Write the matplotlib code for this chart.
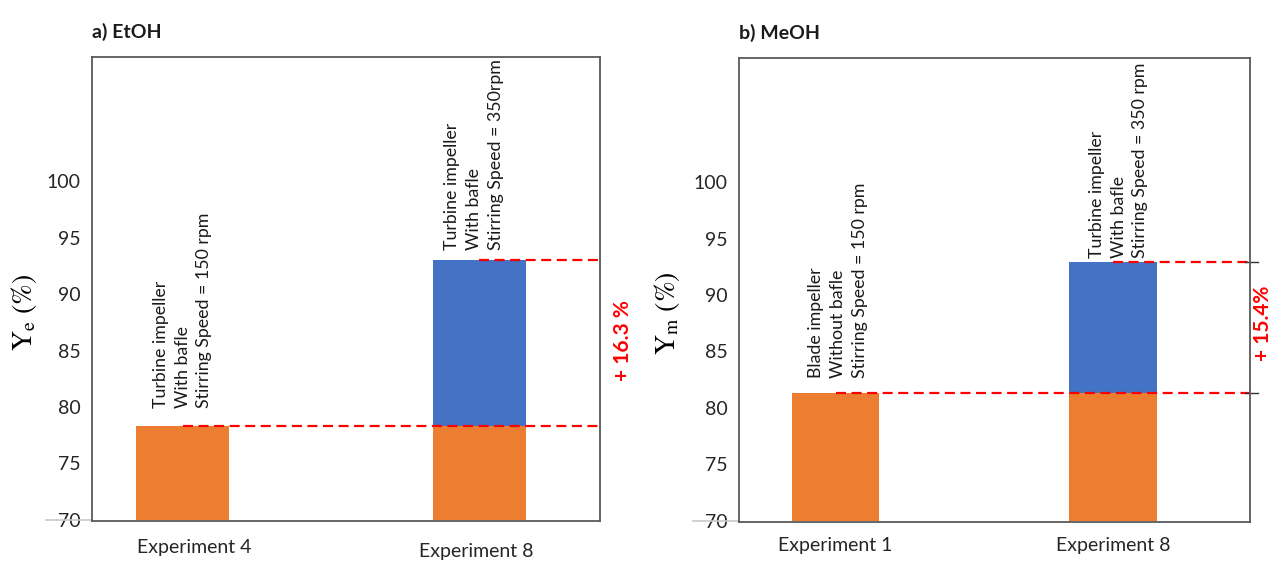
import numpy as np
import matplotlib
matplotlib.use('Agg')
import matplotlib.pyplot as plt
import matplotlib.transforms as mtransforms

plt.rcParams['font.family'] = ['Lato', 'DejaVu Sans']
plt.rcParams['mathtext.fontset'] = 'stix'

# data
etoh_labels = ['Experiment 4', 'Experiment 8']
etoh_base = [78.3, 78.3]
etoh_top = [78.3, 93.0]
etoh_notes = ['Turbine impeller\nWith bafle\nStirring Speed = 150 rpm',
              'Turbine impeller\nWith bafle\nStirring Speed = 350rpm']
etoh_gain = '+ 16.3 %'

meoh_labels = ['Experiment 1', 'Experiment 8']
meoh_base = [81.3, 81.3]
meoh_top = [81.3, 92.9]
meoh_notes = ['Blade impeller\nWithout bafle\nStirring Speed = 150 rpm',
              'Turbine impeller\nWith bafle\nStirring Speed = 350 rpm']
meoh_gain = '+ 15.4%'

yticks = [70, 75, 80, 85, 90, 95, 100]

orange = '#ED7D31'
blue = '#4472C4'
W, H = 1274, 561

fig = plt.figure(figsize=(W / 100, H / 100), dpi=100)


def panel(rect, xlim, ylim, labels, base, top, notes, title, ylab,
          note_off, lab_off, tick_right):
    ax = fig.add_axes(rect)
    x = np.arange(len(labels))
    ax.bar(x, np.array(base) - 70, bottom=70, width=0.315, color=orange)
    ax.bar(x, np.array(top) - np.array(base), bottom=base, width=0.315, color=blue)
    ax.set_xlim(*xlim)
    ax.set_ylim(*ylim)
    ax.set_yticks(yticks)
    ax.tick_params(axis='y', length=0, pad=8, labelsize=14, labelcolor='#262626')
    ax.set_xticks([])
    for s in ax.spines.values():
        s.set_color('#595959')
        s.set_linewidth(1.3)

    # red dashed reference lines, from the bar centre to the right edge
    ax.plot([x[0], xlim[1]], [base[0], base[0]], color='red', lw=1.6,
            dashes=(4.5, 2.5), clip_on=False)
    ax.plot([x[1], xlim[1]], [top[1], top[1]], color='red', lw=1.6,
            dashes=(4.5, 2.5), clip_on=False)

    trans = mtransforms.blended_transform_factory(ax.transAxes, ax.transData)
    ax.plot([-0.09, 0], [70, 70], color='#c8c8c8', lw=1.2, transform=trans, clip_on=False)
    if tick_right:
        for yv in (base[1], top[1]):
            ax.plot([0.99, 1.016], [yv, yv], color='#333333', lw=1.0,
                    transform=trans, clip_on=False)

    for i in x:
        ax.annotate(notes[i], xy=(i, top[i]), xytext=note_off[i], textcoords='offset points',
                    rotation=90, ha='center', va='bottom', multialignment='left',
                    fontsize=12.8, linespacing=1.45, color='#1a1a1a')

    tx = mtransforms.blended_transform_factory(ax.transData, fig.transFigure)
    for i in x:
        ax.text(i + lab_off[i][0], 1 - lab_off[i][1] / H, labels[i], transform=tx,
                ha='center', va='center', fontsize=14, color='#262626')

    ax.set_ylabel(ylab, fontsize=20, family='STIXGeneral')
    ax.text(0.0, 1.0 + 30 / H, title, transform=ax.transAxes, fontsize=14,
            fontweight='bold', ha='left', va='center', color='#1a1a1a')
    return ax


ax1 = panel([92 / W, 40 / H, 508 / W, 464 / H], (-0.305, 1.406), (69.9, 111.0),
            etoh_labels, etoh_base, etoh_top, etoh_notes, 'a) EtOH',
            r'$\mathrm{Y_e}$ (%)', [(0, 13), (-4, 7)], [(0.04, 547), (-0.01, 552)], False)
ax1.yaxis.set_label_coords(-0.105, 0.45)

ax2 = panel([739 / W, 39 / H, 511 / W, 464 / H], (-0.348, 1.494), (69.87, 111.0),
            meoh_labels, meoh_base, meoh_top, meoh_notes, 'b) MeOH',
            r'$\mathrm{Y_m}$ (%)', [(2, 11), (4, 3)], [(0.0, 545), (0.0, 545)], True)
ax2.yaxis.set_label_coords(-0.112, 0.45)

fig.text(623 / W, 1 - 341 / H, etoh_gain, rotation=90, color='red', fontsize=15,
         fontweight='bold', ha='center', va='center')
fig.text(1263 / W, 1 - 323 / H, meoh_gain, rotation=90, color='red', fontsize=15,
         fontweight='bold', ha='center', va='center')

fig.savefig('out.png', dpi=100)
